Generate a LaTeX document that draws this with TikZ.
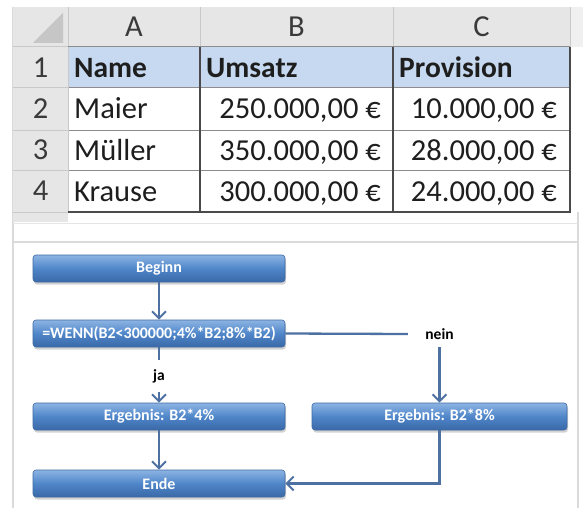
\documentclass[tikz,border=0pt]{standalone}
\usepackage{fontspec}
\setmainfont{Carlito}
\usetikzlibrary{shadows,arrows.meta}
\definecolor{hdrgray}{HTML}{E6E6E6}
\definecolor{hdrline}{HTML}{C9C9C9}
\definecolor{rowblue}{HTML}{C6D9F0}
\definecolor{gridgray}{HTML}{8C8C8C}
\definecolor{griddark}{HTML}{4A4A4A}
\definecolor{framegray}{HTML}{DADADA}
\definecolor{boxtop}{HTML}{8DB4E3}
\definecolor{boxmid}{HTML}{4F86C9}
\definecolor{boxbot}{HTML}{3A69A8}
\definecolor{boxedge}{HTML}{3E6AA3}
\definecolor{arrowblue}{HTML}{4E71A3}
\definecolor{hdrtext}{HTML}{3A3A3A}
\definecolor{celltext}{HTML}{1E1E1E}
\begin{document}
\begin{tikzpicture}[x=1pt,y=-1pt,
  cell/.style={font=\fontsize{30.5}{36}\selectfont, inner sep=0pt, text=celltext},
  bcell/.style={cell, font=\fontsize{29.5}{34}\selectfont\bfseries},
  hcell/.style={cell, text=hdrtext},
  flowbox/.style={rounded corners=3pt, top color=boxtop, bottom color=boxbot, middle color=boxmid,
    draw=boxedge, line width=0.6pt, minimum height=27pt, text=white,
    font=\fontsize{16}{18}\selectfont\bfseries, inner sep=1pt,
    drop shadow={shadow xshift=1pt, shadow yshift=-2.5pt, opacity=0.35}},
  lbl/.style={font=\fontsize{15.5}{18}\selectfont\bfseries, text=black, inner sep=0pt},
  conn/.style={draw=arrowblue, line width=2.3pt},
  arr/.style={conn, -{Straight Barb[length=7pt, width=14pt, line width=2pt]}}
]
\useasboundingbox (0,0) rectangle (583,508);
\fill[white] (0,0) rectangle (583,508);

% ---------- outer frame lines ----------
\draw[framegray, line width=1.2pt] (13,7) -- (13,508);
\draw[framegray, line width=1.2pt] (578,212) -- (578,508);
\draw[framegray!70, line width=1pt] (13,223) -- (578,223);
\draw[framegray, line width=1.2pt] (13,242) -- (578,242);

% ---------- spreadsheet headers ----------
\fill[hdrgray] (13,7) rectangle (570,47);
\fill[hdrgray!60] (570,7) rectangle (583,47);
\fill[hdrgray] (13,47) rectangle (68,222);
\fill[gray!45] (33,43) -- (63,43) -- (63,13) -- cycle;
\draw[hdrline, line width=1pt] (68,7) -- (68,47) (200,7) -- (200,47) (393,7) -- (393,47) (570,7) -- (570,47);
\draw[hdrline, line width=1pt] (13,47) -- (68,47) (13,88) -- (68,88) (13,130) -- (68,130) (13,170) -- (68,170) (13,212) -- (68,212);
\draw[gridgray, line width=1pt] (68,47) -- (570,47);

% ---------- data area ----------
\fill[rowblue] (68,47) rectangle (570,88);
\draw[gridgray, line width=1pt] (68,88) -- (570,88) (68,130) -- (570,130) (68,170) -- (570,170);
\draw[hdrline, line width=1pt] (68,47) -- (68,212);
\draw[griddark, line width=1.2pt] (200,47) -- (200,212) (393,47) -- (393,212);
\draw[griddark, line width=1.8pt] (68,212) -- (570,212) -- (570,47);

% header letters
\node[hcell] (hA) at (134,27) {A};
\node[hcell] (hB) at (296.5,27) {B};
\node[hcell] (hC) at (481.5,27) {C};
% row numbers
\node[hcell] (r1) at (40.5,67.5) {1};
\node[hcell] (r2) at (40.5,109) {2};
\node[hcell] (r3) at (40.5,150) {3};
\node[hcell] (r4) at (40.5,191) {4};

% row 1
\node[bcell, anchor=base west] (c1a) at (74,77.5) {Name};
\node[bcell, anchor=base west] (c1b) at (206,77.5) {Umsatz};
\node[bcell, anchor=base west] (c1c) at (399,77.5) {Provision};
% row 2
\node[cell, anchor=base west] (c2a) at (74,119) {Maier};
\node[cell, anchor=base east] (c2b) at (381,119) {250.000,00 €};
\node[cell, anchor=base east] (c2c) at (557,119) {10.000,00 €};
% row 3
\node[cell, anchor=base west] (c3a) at (74,160) {Müller};
\node[cell, anchor=base east] (c3b) at (381,160) {350.000,00 €};
\node[cell, anchor=base east] (c3c) at (557,160) {28.000,00 €};
% row 4
\node[cell, anchor=base west] (c4a) at (74,201) {Krause};
\node[cell, anchor=base east] (c4b) at (381,201) {300.000,00 €};
\node[cell, anchor=base east] (c4c) at (557,201) {24.000,00 €};

% ---------- flowchart ----------
\node[flowbox, minimum width=252pt] (beginn) at (159,268.5) {Beginn};
\node[flowbox, minimum width=252pt] (wenn) at (159,333.5) {=WENN(B2<300000;4\%*B2;8\%*B2)};
\node[flowbox, minimum width=252pt] (erg4) at (159,416.5) {Ergebnis: B2*4\%};
\node[flowbox, minimum width=252pt] (ende) at (159,483.5) {Ende};
\node[flowbox, minimum width=255pt] (erg8) at (439.5,416.5) {Ergebnis: B2*8\%};

\node[lbl, minimum height=32pt] (ja) at (159,376) {ja};
\node[lbl, minimum width=63pt, minimum height=26pt] (nein) at (439.5,334) {nein};

\draw[arr] (beginn) -- (wenn);
\draw[conn] (wenn) -- (ja);
\draw[arr] (ja) -- (erg4);
\draw[conn] (wenn.east) -- (nein.west);
\draw[arr] (nein) -- (erg8);
\draw[arr] (erg4) -- (ende);
\draw[arr] (erg8.south) |- (ende.east);
\end{tikzpicture}
\end{document}
